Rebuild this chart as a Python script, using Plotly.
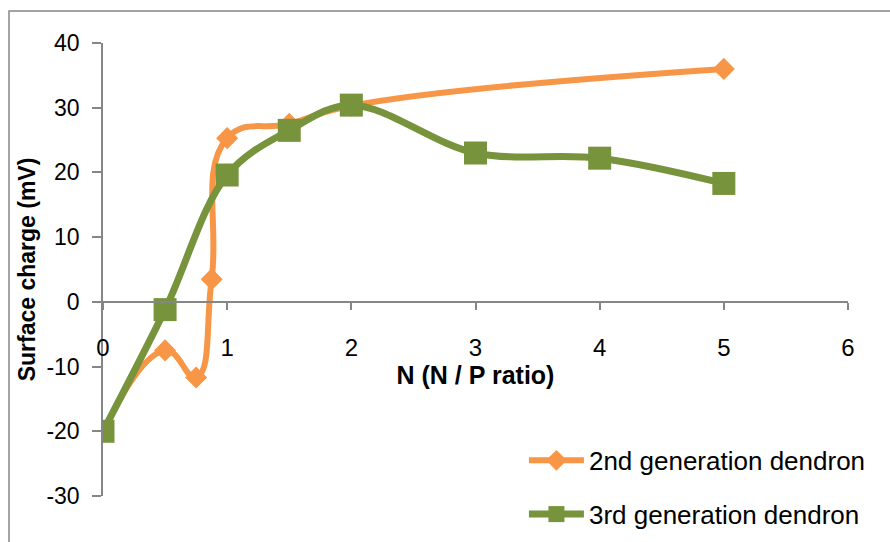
import plotly.graph_objects as go

# Data
x_gen2 = [0, 0.5, 0.75, 0.875, 1, 1.5, 2, 5]
y_gen2 = [-20, -7.5, -11.7, 3.5, 25.3, 27.5, 30.3, 36.0]

x_gen3 = [0, 0.5, 1, 1.5, 2, 3, 4, 5]
y_gen3 = [-20, -1.2, 19.6, 26.5, 30.4, 23.0, 22.2, 18.3]

name_gen2 = "2nd generation dendron"
name_gen3 = "3rd generation dendron"

x_ticks = [0, 1, 2, 3, 4, 5, 6]
x_labels = ["0", "1", "2", "3", "4", "5", "6"]
y_ticks = [-30, -20, -10, 0, 10, 20, 30, 40]
y_labels = ["-30", "-20", "-10", "0", "10", "20", "30", "40"]

ORANGE = "#F79646"
GREEN = "#77933C"
AXIS = "#868686"
FONT = "Liberation Sans, Arial, sans-serif"

fig = go.Figure()
fig.add_trace(go.Scatter(
    x=x_gen2, y=y_gen2, name=name_gen2, mode="lines+markers",
    line=dict(color=ORANGE, width=6, shape="spline", smoothing=1.3),
    marker=dict(symbol="diamond", size=17, color=ORANGE),
    legendgroup="a",
))
fig.add_trace(go.Scatter(
    x=x_gen3, y=y_gen3, name=name_gen3, mode="lines+markers",
    line=dict(color=GREEN, width=7, shape="spline", smoothing=1),
    marker=dict(symbol="square", size=23, color=GREEN),
    legendgroup="b",
))

fig.update_layout(
    width=890, height=542,
    margin=dict(l=103, r=42, t=43, b=46, autoexpand=False),
    paper_bgcolor="white", plot_bgcolor="white",
    font=dict(family=FONT, color="black"),
    showlegend=True,
    legend=dict(
        x=0.565, y=0.019, xanchor="left", yanchor="middle",
        traceorder="grouped", tracegroupgap=17,
        itemwidth=55, font=dict(size=26, family=FONT),
        bgcolor="rgba(0,0,0,0)",
    ),
    xaxis=dict(
        range=[0, 6], tickvals=x_ticks, ticktext=x_labels, ticks="outside", ticklen=7,
        tickcolor=AXIS, tickwidth=1.5, showline=True, linecolor=AXIS, linewidth=1.5,
        showgrid=False, zeroline=False, anchor="free", position=30 / 70,
        tickfont=dict(size=24), ticklabelstandoff=18,
        title=dict(text="<b>N (N / P ratio)</b>", font=dict(size=25), standoff=2),
    ),
    yaxis=dict(
        range=[-30, 40], tickvals=y_ticks, ticktext=y_labels, ticks="outside", ticklen=9,
        tickcolor=AXIS, tickwidth=1.5, showline=True, linecolor=AXIS, linewidth=1.5,
        showgrid=False, zeroline=False, tickfont=dict(size=23), ticklabelstandoff=8,
        title=dict(text="<b>Surface charge (mV)</b>", font=dict(size=23), standoff=4),
    ),
    shapes=[dict(
        type="rect", xref="paper", yref="paper",
        x0=(9 - 103) / 745, x1=1.2, y0=-0.2, y1=(496 - 11) / 453,
        line=dict(color="#878787", width=1.5), fillcolor="rgba(0,0,0,0)", layer="below",
    )],
)

fig.write_html("out.html")
